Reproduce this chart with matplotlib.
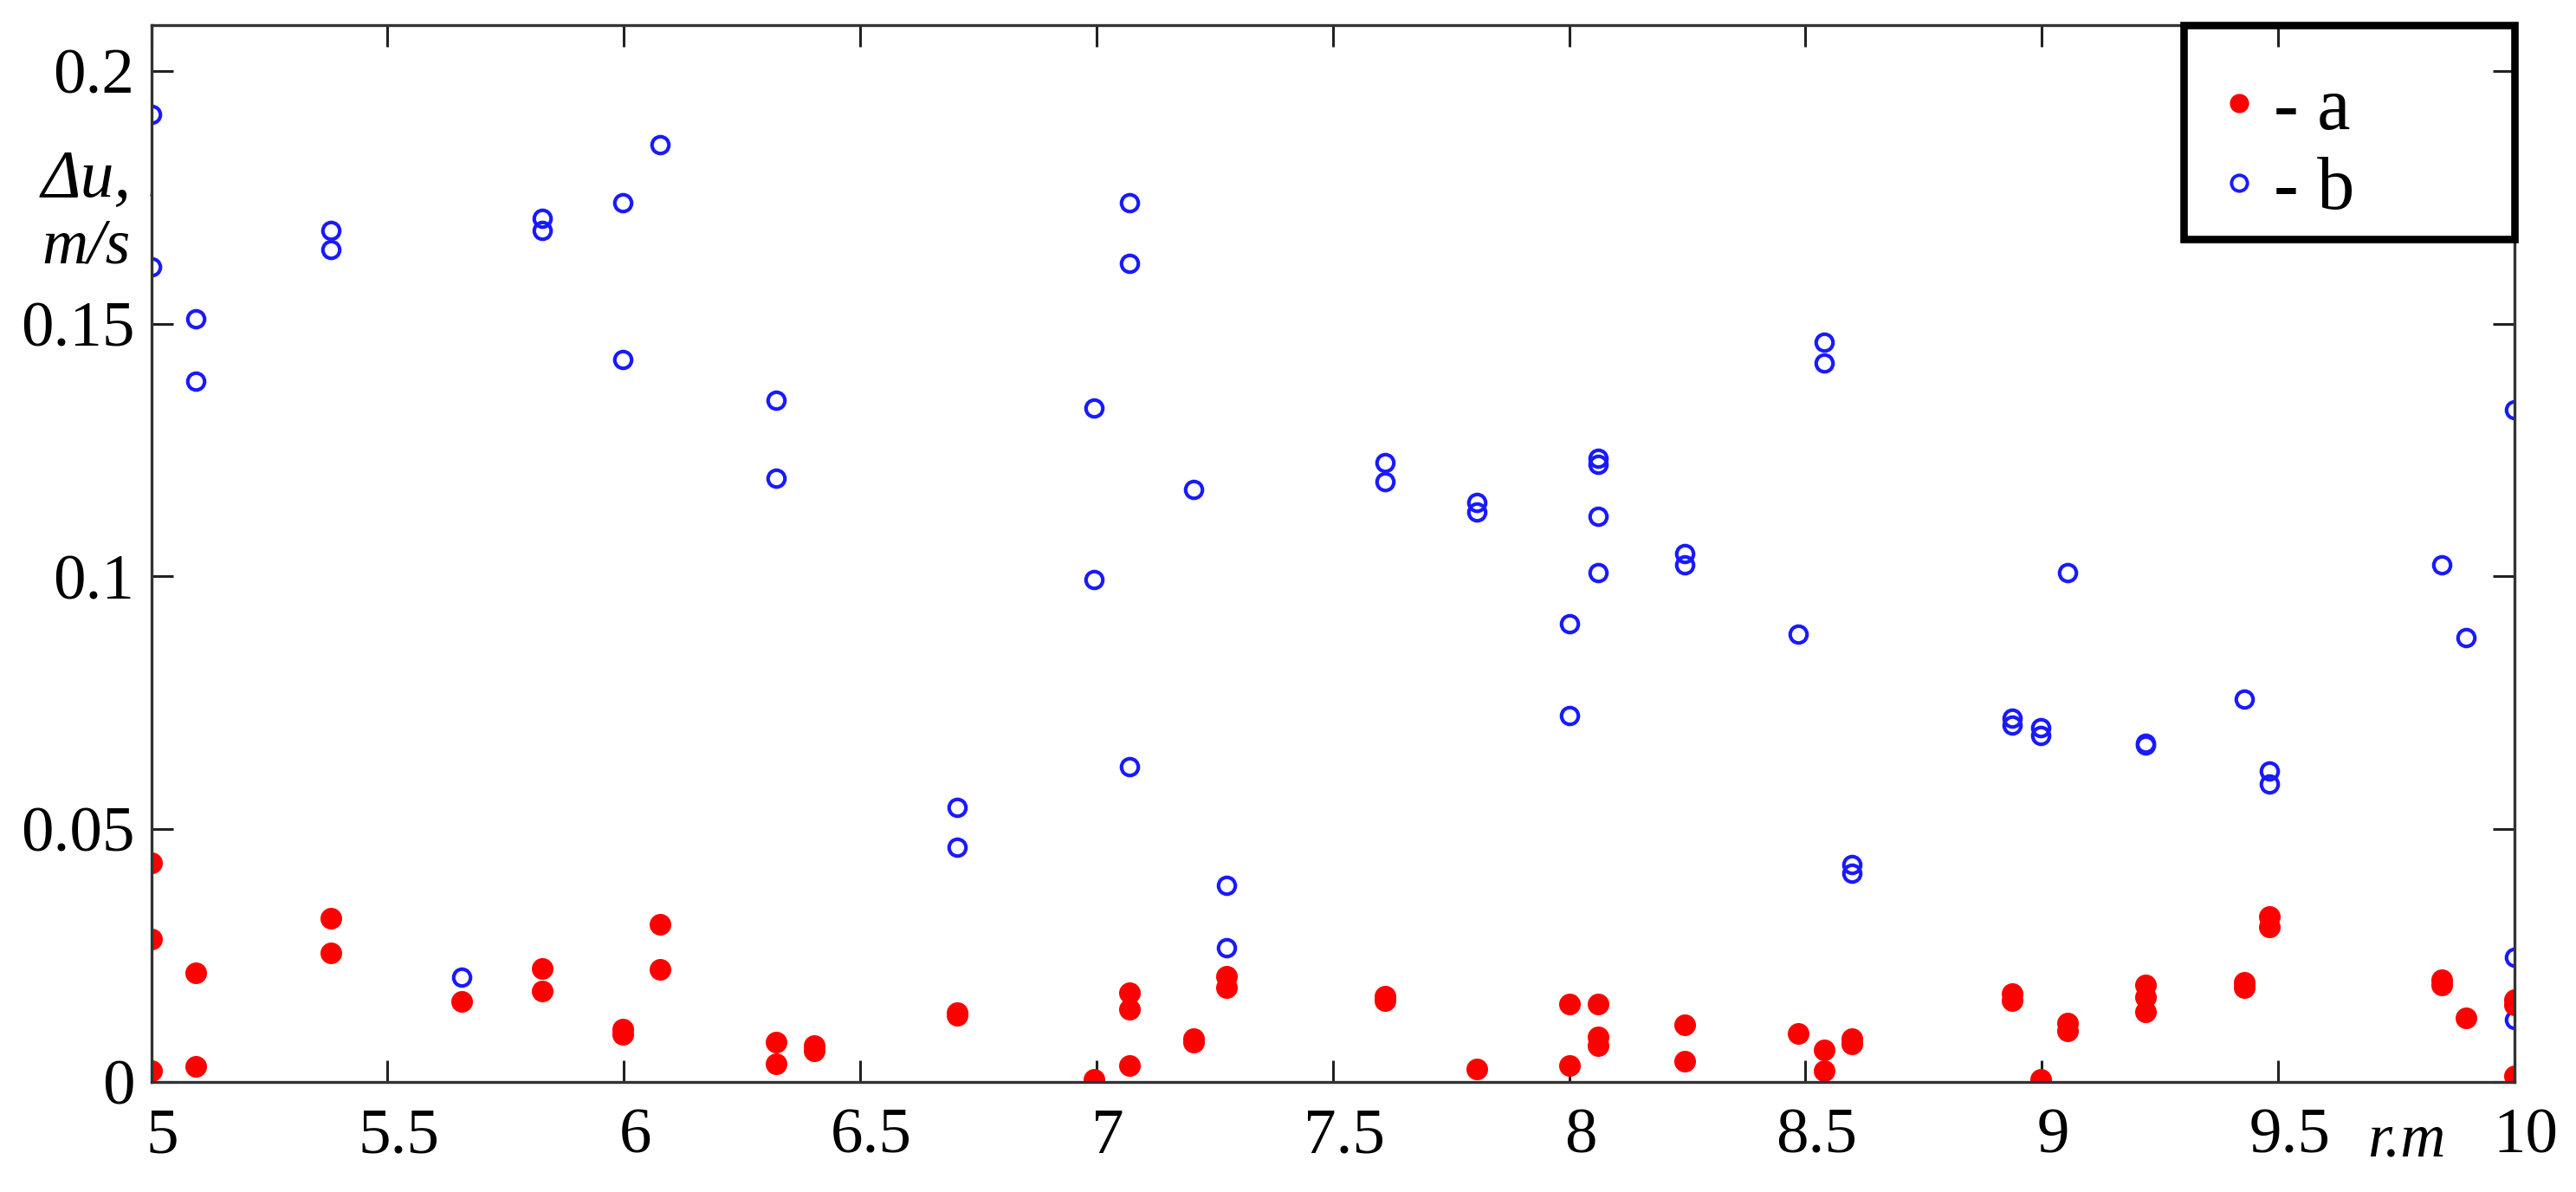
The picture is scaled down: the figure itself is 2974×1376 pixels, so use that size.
"""
Scatter Δu vs r for the two cases a / b (digitised from the reference figure).
"""
import matplotlib
matplotlib.use("Agg")
import matplotlib.pyplot as plt
import matplotlib.transforms as mtransforms
from matplotlib.lines import Line2D
from matplotlib.patches import Rectangle

# ---- Data -------------------------------------------------------------------
# case a (red filled dots)
a_r = [5.0, 5.0, 5.0, 5.095, 5.095, 5.381, 5.381, 5.656, 5.828, 5.828,
       5.997, 5.997, 6.077, 6.077, 6.322, 6.322, 6.402, 6.402, 6.705, 6.705,
       6.995, 7.069, 7.069, 7.069, 7.206, 7.206, 7.275, 7.275, 7.611, 7.611,
       7.804, 8.0, 8.0, 8.061, 8.061, 8.061, 8.245, 8.245, 8.485, 8.54,
       8.54, 8.599, 8.599, 8.938, 8.938, 8.997, 9.054, 9.054, 9.22, 9.22,
       9.22, 9.429, 9.429, 9.482, 9.482, 9.847, 9.847, 9.898, 10.0, 10.0,
       10.0]
a_du = [0.0433, 0.0283, 0.0021, 0.0216, 0.0030, 0.0324, 0.0255, 0.0159, 0.0224, 0.0179,
        0.0104, 0.0093, 0.0312, 0.0222, 0.0078, 0.0035, 0.0072, 0.0062, 0.0137, 0.0132,
        0.0005, 0.0176, 0.0143, 0.0032, 0.0086, 0.0079, 0.0209, 0.0187, 0.0170, 0.0161,
        0.0026, 0.0154, 0.0032, 0.0154, 0.0088, 0.0072, 0.0112, 0.0041, 0.0096, 0.0063,
        0.0021, 0.0085, 0.0075, 0.0175, 0.0161, 0.0004, 0.0116, 0.0101, 0.0191, 0.0168,
        0.0139, 0.0197, 0.0186, 0.0327, 0.0307, 0.0202, 0.0191, 0.0126, 0.0162, 0.0152,
        0.0011]

# case b (blue open circles)
b_r = [5.0, 5.0, 5.095, 5.095, 5.381, 5.381, 5.656, 5.828, 5.828, 5.997,
       5.997, 6.077, 6.322, 6.322, 6.705, 6.705, 6.995, 6.995, 7.069, 7.069,
       7.069, 7.206, 7.275, 7.275, 7.611, 7.611, 7.804, 7.804, 8.0, 8.0,
       8.061, 8.061, 8.061, 8.061, 8.245, 8.245, 8.485, 8.54, 8.54, 8.599,
       8.599, 8.938, 8.938, 8.997, 8.997, 9.054, 9.22, 9.22, 9.429, 9.482,
       9.482, 9.847, 9.898, 10.0, 10.0, 10.0]
b_du = [0.1915, 0.1612, 0.1509, 0.1387, 0.1685, 0.1647, 0.0207, 0.1708, 0.1685, 0.1739,
        0.1429, 0.1855, 0.1348, 0.1194, 0.0543, 0.0464, 0.1333, 0.0993, 0.1739, 0.1620,
        0.0623, 0.1172, 0.0388, 0.0266, 0.1226, 0.1188, 0.1146, 0.1127, 0.0906, 0.0724,
        0.1234, 0.1222, 0.1119, 0.1008, 0.1046, 0.1023, 0.0885, 0.1463, 0.1423, 0.0429,
        0.0412, 0.0719, 0.0706, 0.0700, 0.0686, 0.1008, 0.0670, 0.0666, 0.0757, 0.0615,
        0.0590, 0.1023, 0.0879, 0.1329, 0.0246, 0.0123]

x_ticks = [5, 5.5, 6, 6.5, 7, 7.5, 8, 8.5, 9, 9.5, 10]
x_labels = ["5", "5.5", "6", "6.5", "7", "7.5", "8", "8.5", "9", "9.5", "10"]
y_ticks = [0, 0.05, 0.1, 0.15, 0.2]
y_labels = ["0", "0.05", "0.1", "0.15", "0.2"]

RED = "#ff0000"
BLUE = "#1a1aff"
SERIF = "Liberation Serif"

# ---- Figure -----------------------------------------------------------------
plt.rcParams["font.family"] = [SERIF, "DejaVu Serif"]

fig = plt.figure(figsize=(14.87, 6.88), dpi=200)
ax = fig.add_axes([0.0587, 0.0925, 0.9174, 0.8865])

ax.plot(b_r, b_du, ls="none", marker="o", ms=7.0, mfc="none", mec=BLUE, mew=1.5)
ax.plot(a_r, a_du, ls="none", marker="o", ms=9.0, mfc=RED, mec=RED, mew=0)

ax.set_xlim(5, 10)
ax.set_ylim(0, 0.2091)
ax.set_xticks(x_ticks)
ax.set_xticklabels(x_labels)
ax.set_yticks(y_ticks)
ax.set_yticklabels(y_labels)
ax.tick_params(direction="in", length=9, width=1.1, top=True, right=True,
               labelsize=27, color="#222222")
ax.tick_params(axis="x", pad=11)
ax.tick_params(axis="y", pad=7)
for s in ax.spines.values():
    s.set_linewidth(1.2)
    s.set_color("#333333")

# x labels sit slightly right of their ticks in the original
shift = mtransforms.ScaledTranslation(13 / 200, 0, fig.dpi_scale_trans)
for lab in ax.get_xticklabels():
    lab.set_transform(lab.get_transform() + shift)

# axis captions
fig.text(0.0161, 0.835, "Δu, m", fontsize=28, style="italic", va="baseline",
         zorder=-1)
fig.text(0.0161, 0.7794, "m/s", fontsize=26.5, style="italic", va="baseline")
fig.text(0.919, 0.0305, "r.m", fontsize=26, style="italic", va="baseline")

# legend box (thick frame, top-right corner)
ax.add_patch(Rectangle((0.8601, 0.7975), 0.1399, 0.2025, transform=ax.transAxes,
                       fill=False, ec="black", lw=3.1, clip_on=False, zorder=5))
handles = [
    Line2D([], [], ls="none", marker="o", ms=8.0, mfc=RED, mec=RED, mew=0),
    Line2D([], [], ls="none", marker="o", ms=6.6, mfc="none", mec=BLUE, mew=1.4),
]
ax.legend(handles, ["- a", "- b"], loc="upper left", bbox_to_anchor=(0.8523, 1.0),
          borderaxespad=0, frameon=False, fontsize=31, handlelength=0.6,
          handletextpad=0.16, borderpad=0.69, labelspacing=0.15)

fig.savefig("out.png", dpi=200)
